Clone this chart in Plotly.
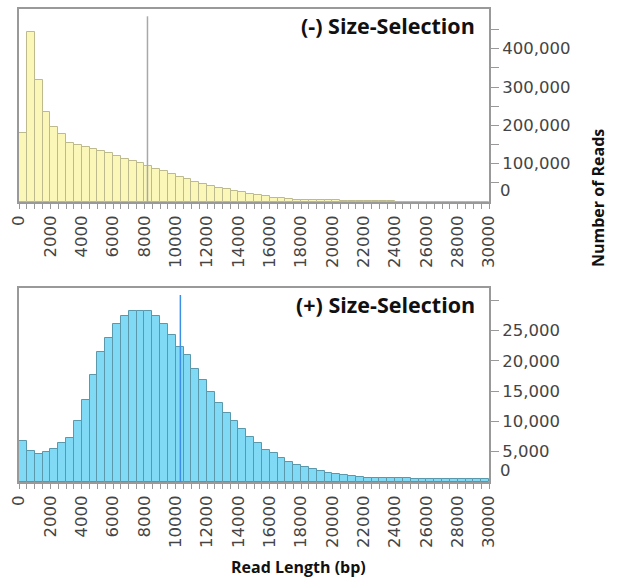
import plotly.graph_objects as go

# Read-length histograms, 500 bp bins from 0 to 30 kb
bin_width = 500
bin_start = list(range(0, 30000, bin_width))

reads_no_selection = [
    179000, 443000, 318000, 234000, 196000, 177000, 155000, 150000, 143000, 138000,
    133000, 127000, 120000, 111000, 106000, 102000, 94000, 85000, 80000, 73000,
    66000, 60000, 53000, 46000, 41000, 36000, 33000, 30000, 26000, 21000,
    17000, 15000, 10000, 9500, 9000, 5600, 5400, 5200, 5000, 4800,
    4600, 1800, 1700, 1600, 1500, 1500, 1400, 1400, 1300, 1300,
    1200, 1200, 1100, 1100, 1000, 1000, 900, 900, 800, 800,
]

reads_size_selected = [
    6700, 5100, 4700, 5000, 5500, 6400, 7300, 10000, 13600, 17600,
    21500, 23800, 26000, 27400, 28200, 28200, 28200, 27400, 26000, 24200,
    22300, 20900, 18700, 16900, 14800, 13100, 11300, 10000, 8700, 7500,
    6400, 5300, 4800, 3900, 3300, 2750, 2500, 2100, 1750, 1500,
    1400, 1100, 1000, 770, 660, 660, 660, 660, 660, 660,
    440, 440, 440, 440, 440, 440, 440, 440, 440, 440,
]

# Read-length N50 markers
n50_no_selection = 8200
n50_size_selected = 10300

panel_titles = ["(-) Size-Selection", "(+) Size-Selection"]
x_tick_values = list(range(0, 30001, 2000))
top_tick_values = list(range(50000, 500000, 50000))
bottom_tick_values = list(range(5000, 30001, 5000))

bin_centers = [b + bin_width / 2 for b in bin_start]

W, H = 622, 588
tick_font = dict(family="DejaVu Sans", size=16.5, color="#444444")
title_font = dict(family="Open Sans", size=21.5, color="#111111")
label_font = dict(family="Open Sans", size=16, color="#111111")
axis_color = "#999999"

fig = go.Figure()

fig.add_trace(go.Bar(
    x=bin_centers, y=reads_no_selection, width=bin_width,
    marker=dict(color="#FBF7B8", line=dict(color="#BDBB8E", width=1)),
    xaxis="x", yaxis="y", showlegend=False,
))
fig.add_trace(go.Bar(
    x=bin_centers, y=reads_size_selected, width=bin_width,
    marker=dict(color="#80DAF6", line=dict(color="#5A98AC", width=1)),
    xaxis="x2", yaxis="y2", showlegend=False,
))


def fmt(v):
    return f"{v:,}"


top_tick_text = [fmt(v) if v % 100000 == 0 else "" for v in top_tick_values]
bottom_tick_text = [fmt(v) if v < 30000 else "" for v in bottom_tick_values]

x_common = dict(
    range=[0, 30000], tickmode="array", tickvals=x_tick_values,
    ticktext=[str(v) for v in x_tick_values], tickangle=-90,
    ticks="outside", ticklen=5, tickwidth=1, tickcolor=axis_color,
    minor=dict(dtick=bin_width, tick0=0, ticks="outside", ticklen=5,
               tickwidth=1, tickcolor=axis_color),
    showline=True, linecolor=axis_color, linewidth=2, mirror=True,
    showgrid=False, zeroline=False, tickfont=tick_font, fixedrange=True,
    automargin=False,
)
y_common = dict(
    side="right", ticks="outside", ticklen=8, tickwidth=1, tickcolor=axis_color,
    showline=True, linecolor=axis_color, linewidth=2, mirror=True,
    showgrid=False, zeroline=False, tickfont=tick_font, fixedrange=True,
    automargin=False,
)

x0, x1 = 19 / W, 489 / W
fig.update_layout(
    width=W, height=H,
    margin=dict(l=0, r=0, t=0, b=0),
    paper_bgcolor="white", plot_bgcolor="white",
    bargap=0,
    xaxis=dict(domain=[x0, x1], anchor="y", **x_common),
    yaxis=dict(domain=[1 - 202 / H, 1 - 9 / H], anchor="x", range=[0, 503500],
               tickmode="array", tickvals=top_tick_values, ticktext=top_tick_text,
               **y_common),
    xaxis2=dict(domain=[x0, x1], anchor="y2", **x_common),
    yaxis2=dict(domain=[1 - 482 / H, 1 - 288 / H], anchor="x2", range=[0, 32000],
                tickmode="array", tickvals=bottom_tick_values,
                ticktext=bottom_tick_text, **y_common),
)

# N50 lines
fig.add_shape(type="line", xref="x", yref="y domain", x0=n50_no_selection,
              x1=n50_no_selection, y0=0, y1=0.962,
              line=dict(color="#A8A8A8", width=1.5))
fig.add_shape(type="line", xref="x2", yref="y2 domain", x0=n50_size_selected,
              x1=n50_size_selected, y0=0, y1=0.964,
              line=dict(color="#3C8FE8", width=1.5))

# Panel titles and zero labels
for xr, yr, title in [("x", "y", panel_titles[0]), ("x2", "y2", panel_titles[1])]:
    fig.add_annotation(
        xref=f"{xr} domain", yref=f"{yr} domain", x=1, y=1,
        xanchor="right", yanchor="top", xshift=-12, yshift=0,
        text=f"<b>{title}</b>", showarrow=False, font=title_font,
    )
    # zero label sits just above the baseline
    fig.add_annotation(
        xref=f"{xr} domain", yref=yr, x=1, y=0,
        xanchor="left", yanchor="bottom", xshift=9, yshift=0,
        text="0", showarrow=False, font=tick_font,
    )

fig.add_annotation(
    xref="paper", yref="paper", x=598 / W, y=1 - 198 / H,
    xanchor="center", yanchor="middle",
    text="<b>Number of Reads</b>", textangle=-90, showarrow=False,
    font=label_font,
)
fig.add_annotation(
    xref="paper", yref="paper", x=298 / W, y=1 - 567 / H,
    xanchor="center", yanchor="middle",
    text="<b>Read Length (bp)</b>", showarrow=False,
    font=label_font,
)

fig.write_html("out.html")
